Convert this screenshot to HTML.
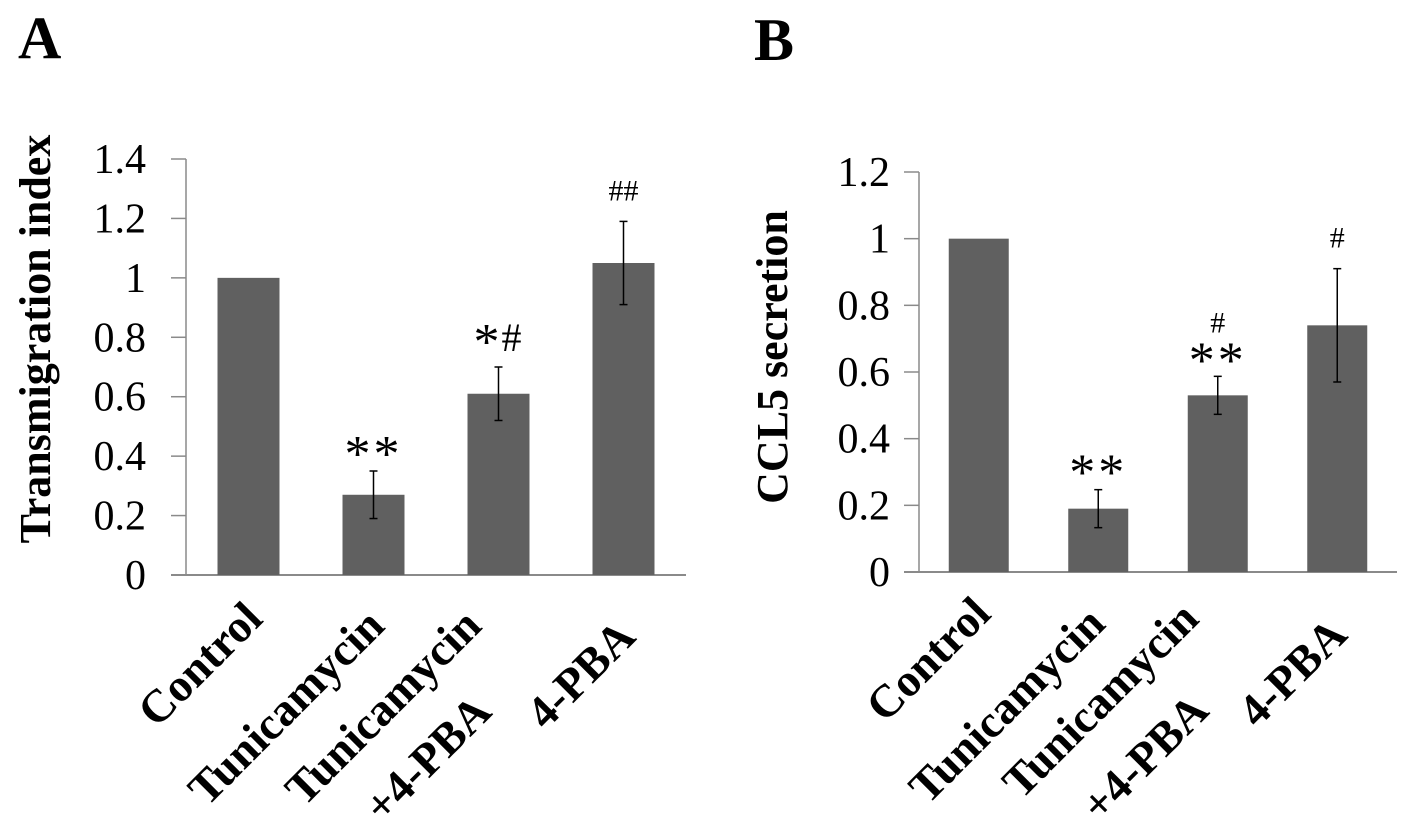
<!DOCTYPE html>
<html><head><meta charset="utf-8"><style>
html,body{margin:0;padding:0;background:#fff;}
svg{display:block;}
text{font-family:"Liberation Serif",serif;fill:#000;}
</style></head><body>
<svg id="fig" width="1417" height="826" viewBox="0 0 1417 826" xmlns="http://www.w3.org/2000/svg">
<text x="18" y="58" font-size="60" font-weight="bold">A</text>
<text x="754" y="60" font-size="60" font-weight="bold">B</text>
<g id="chartA"></g>
<g id="chartB"></g>
</svg>
<script>
const categories = ["Control", "Tunicamycin", "Tunicamycin +4-PBA", "4-PBA"];
const valuesA = [1.0, 0.27, 0.61, 1.05];
const errorsA = [0, 0.08, 0.09, 0.14];
const marksA = ["", "**", "*#", "##"];
const ticksA = [0, 0.2, 0.4, 0.6, 0.8, 1, 1.2, 1.4];
const tickLabelsA = ["0", "0.2", "0.4", "0.6", "0.8", "1", "1.2", "1.4"];
const valuesB = [1.0, 0.19, 0.53, 0.74];
const errorsB = [0, 0.057, 0.057, 0.17];
const marksB = ["", "**", "**#", "#"];
const ticksB = [0, 0.2, 0.4, 0.6, 0.8, 1, 1.2];
const tickLabelsB = ["0", "0.2", "0.4", "0.6", "0.8", "1", "1.2"];

const NS = "http://www.w3.org/2000/svg";
function mk(parent, tag, attrs, txt) {
  const e = document.createElementNS(NS, tag);
  for (const k in attrs) e.setAttribute(k, attrs[k]);
  if (txt !== undefined) e.textContent = txt;
  parent.appendChild(e);
  return e;
}

function drawChart(g, cfg, values, errors, marks, ticks, tickLabels) {
  const yScale = v => cfg.y0 - (v / cfg.ymax) * (cfg.y0 - cfg.yTop);
  const band = (cfg.x1 - cfg.x0) / categories.length;
  const xCenter = i => cfg.x0 + band * (i + 0.5);

  const t = mk(g, "text", {x: 0, y: 0, "font-size": 44, "font-weight": "bold", "text-anchor": "middle",
    transform: `translate(${cfg.titleX},${cfg.titleY}) rotate(-90)`}, cfg.title);
  
  

  const ax = mk(g, "line", {x1: cfg.x0, y1: cfg.yTop, x2: cfg.x0, y2: cfg.y0, stroke: "#8a8a8a", "stroke-width": 1.5});
  
  
  const bx = mk(g, "line", {x1: cfg.x0 - 15, y1: cfg.y0, x2: cfg.x1, y2: cfg.y0, stroke: "#8a8a8a", "stroke-width": 2});
  
  

  ticks.forEach((v, i) => {
    const y = yScale(v);
    if (i > 0) {
      const tk = mk(g, "line", {x1: cfg.x0 - 15, y1: y, x2: cfg.x0, y2: y, stroke: "#8a8a8a", "stroke-width": 1.5});
      
      
    }
    const tl = mk(g, "text", {x: cfg.tickLabelX, y: y + 14, "font-size": 42, "text-anchor": "end"}, tickLabels[i]);
    
    
  });

  values.forEach((v, i) => {
    const cx = xCenter(i);
    const top = yScale(v);
    const r = mk(g, "rect", {x: cx - cfg.bw / 2, y: top, width: cfg.bw, height: cfg.y0 - top, fill: "#606060"});
    
    
    let annTop = top;
    if (errors[i] > 0) {
      const yh = yScale(v + errors[i]), yl = yScale(v - errors[i]);
      const eg = mk(g, "g", {stroke: "#000", "stroke-width": 1.5});
      
      
      mk(eg, "line", {x1: cx, y1: yh, x2: cx, y2: yl});
      mk(eg, "line", {x1: cx - 4, y1: yh, x2: cx + 4, y2: yh});
      mk(eg, "line", {x1: cx - 4, y1: yl, x2: cx + 4, y2: yl});
      annTop = yh;
    }
    const m = marks[i];
    if (m) {
      const ag = mk(g, "g", {});
      
      
      const stars = (m.match(/\*/g) || []).length;
      const hashes = (m.match(/#/g) || []).length;
      let cy = annTop - 32;
      if (stars && hashes && cfg.stackMarks) {
        mk(ag, "text", {x: cx, y: cy + 33, "font-size": 52, "text-anchor": "middle", "font-family": "Liberation Sans, sans-serif", "letter-spacing": 3}, "*".repeat(stars));
        mk(ag, "text", {x: cx, y: cy - 12, "font-size": 30, "text-anchor": "middle"}, "#".repeat(hashes));
      } else if (stars && hashes) {
        cy = annTop - 34;
        mk(ag, "text", {x: cx - 12, y: cy + 26, "font-size": 52, "text-anchor": "middle", "font-family": "Liberation Sans, sans-serif"}, "*".repeat(stars));
        mk(ag, "text", {x: cx + 13, y: cy + 18, "font-size": 40, "text-anchor": "middle"}, "#".repeat(hashes));
      } else if (stars) {
        mk(ag, "text", {x: cx, y: cy + 32, "font-size": 52, "text-anchor": "middle", "font-family": "Liberation Sans, sans-serif", "letter-spacing": 3}, "*".repeat(stars));
      } else {
        cy = annTop - 31;
        mk(ag, "text", {x: cx, y: cy + 10, "font-size": 30, "text-anchor": "middle"}, "#".repeat(hashes));
      }
    }
    const lines = categories[i].split(" ");
    const lg = mk(g, "g", {});
    
    
    const lay = cfg.labels[i];
    lines.forEach((ln, j) => {
      const p = lay[j];
      mk(lg, "text", {x: 0, y: 0, "font-size": 46, "font-weight": "bold", "text-anchor": "end",
        transform: `translate(${cx + p[0] - 18},${p[1] - 18}) rotate(-45)`}, ln);
    });
  });
}

drawChart(document.getElementById("chartA"), {
  x0: 186, x1: 686, y0: 575, yTop: 159, ymax: 1.4, bw: 62,
  tickLabelX: 146, title: "Transmigration index", titleX: 50, titleY: 339, stackMarks: false,
  labels: [[[34, 639]], [[31, 646]], [[3, 646], [13, 732]], [[32, 657]]]
}, valuesA, errorsA, marksA, ticksA, tickLabelsA);

drawChart(document.getElementById("chartB"), {
  x0: 919, x1: 1397, y0: 572, yTop: 172, ymax: 1.2, bw: 60,
  tickLabelX: 890, title: "CCL5 secretion", titleX: 787, titleY: 357, stackMarks: true,
  labels: [[[32, 634]], [[27, 644]], [[1, 639], [11, 731]], [[30, 655]]]
}, valuesB, errorsB, marksB, ticksB, tickLabelsB);
</script>
</body></html>
